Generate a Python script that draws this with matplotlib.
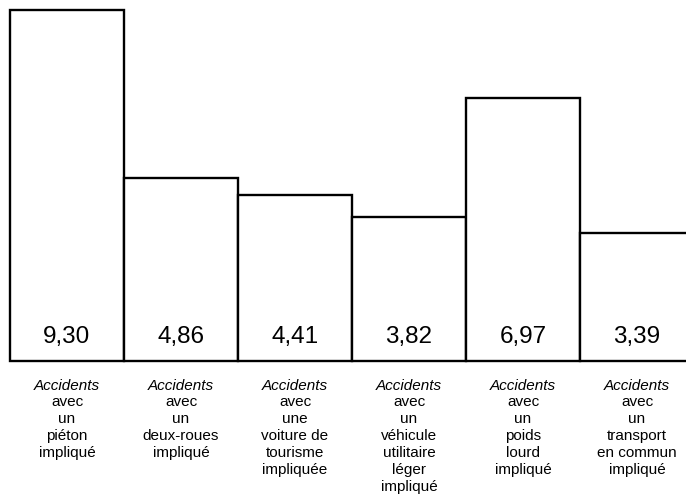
import matplotlib
matplotlib.use("Agg")
import matplotlib.pyplot as plt

# data
values = [9.30, 4.86, 4.41, 3.82, 6.97, 3.39]
value_labels = ["9,30", "4,86", "4,41", "3,82", "6,97", "3,39"]
categories = [
    "avec\nun\npiéton\nimpliqué",
    "avec\nun\ndeux-roues\nimpliqué",
    "avec\nune\nvoiture de\ntourisme\nimpliquée",
    "avec\nun\nvéhicule\nutilitaire\nléger\nimpliqué",
    "avec\nun\npoids\nlourd\nimpliqué",
    "avec\nun\ntransport\nen commun\nimpliqué",
]

plt.rcParams['font.family'] = ['Liberation Sans', 'DejaVu Sans']

fig = plt.figure(figsize=(6.86, 4.94), dpi=100)
ax = fig.add_axes([10 / 686, 133 / 494, 676 / 686, 361 / 494])

x = list(range(len(values)))
ax.bar(x, values, width=1.0, align='edge', color='white', edgecolor='black',
       linewidth=1.7, clip_on=False)
ax.axhline(0, color='black', linewidth=2)

ax.set_xlim(0, 676 / 114)
ax.set_ylim(0, 361 / 37.7)
ax.axis('off')

for i, lab in enumerate(value_labels):
    ax.text(i + 0.5, 0.64, lab, ha='center', va='center', fontsize=17.5)

for i, cat in enumerate(categories):
    ax.text(i + 0.5, -0.66, "Accidents", ha='center', va='center',
            fontsize=11, style='italic', clip_on=False)
    ax.text(i + 0.5, -0.90, cat, ha='center', va='top', fontsize=11,
            linespacing=1.27, clip_on=False)

fig.savefig("out.png", dpi=100)
